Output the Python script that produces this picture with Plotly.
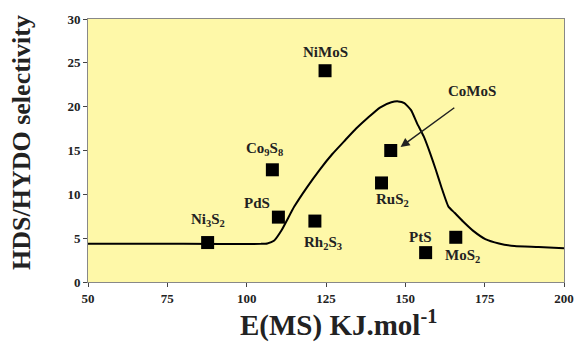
import plotly.graph_objects as go

names = ["Ni<sub>3</sub>S<sub>2</sub>", "Co<sub>9</sub>S<sub>8</sub>", "PdS", "NiMoS", "Rh<sub>2</sub>S<sub>3</sub>",
         "RuS<sub>2</sub>", "CoMoS", "PtS", "MoS<sub>2</sub>"]
e_ms = [87.7, 108.1, 110.0, 124.7, 121.5, 142.5, 145.4, 156.4, 165.9]
selectivity = [4.5, 12.8, 7.4, 24.1, 6.95, 11.3, 15.0, 3.35, 5.1]

# label anchor positions (data coords)
label_x = [87.7, 105.7, 103.4, 124.8, 124.2, 146.0, None, 154.9, 168.0]
label_y = [7.1, 15.2, 9.0, 26.2, 4.5, 9.4, None, 5.1, 2.95]

curve_x = [50, 80, 104.5, 106.5, 108.6, 111, 115, 119, 123, 127, 131.1, 134.5, 138.1, 142, 145.6, 147.8, 149.7, 151.8,
           153.7, 155.8, 157.8, 159.6, 161.3, 163.6, 165.5, 168.2, 171.5, 175.2, 179.5, 184.4, 192, 200]
curve_y = [4.35, 4.35, 4.35, 4.4, 4.7, 5.9, 8.6, 10.8, 12.8, 14.6, 16.2, 17.5, 18.7, 19.9, 20.5, 20.6, 20.4, 19.6,
           18.1, 16.6, 14.7, 12.8, 10.9, 8.6, 7.9, 6.9, 5.8, 4.9, 4.4, 4.1, 4.0, 3.85]

x_ticks = [50, 75, 100, 125, 150, 175, 200]
y_ticks = [0, 5, 10, 15, 20, 25, 30]

font_serif = "Liberation Serif"

fig = go.Figure()
fig.add_trace(go.Scatter(x=curve_x, y=curve_y, mode="lines",
                         line=dict(color="black", width=2, shape="spline", smoothing=0.5),
                         hoverinfo="skip", showlegend=False))
fig.add_trace(go.Scatter(x=e_ms, y=selectivity, mode="markers",
                         marker=dict(symbol="square", size=13, color="black"), showlegend=False))

for n, lx, ly in zip(names, label_x, label_y):
    if lx is None:
        continue
    fig.add_annotation(x=lx, y=ly, text="<b>" + n + "</b>", showarrow=False,
                       font=dict(family=font_serif, size=15, color="#222"))

# CoMoS label with arrow
fig.add_annotation(x=148.5, y=15.4, ax=165.9, ay=20.0, axref="x", ayref="y",
                   text="", showarrow=True, arrowhead=2, arrowsize=1.2, arrowwidth=1.5, arrowcolor="#222")
fig.add_annotation(x=171, y=21.8, text="<b>CoMoS</b>", showarrow=False,
                   font=dict(family=font_serif, size=15, color="#222"))

# axis titles as annotations
fig.add_annotation(xref="paper", yref="paper", x=0.527, y=-0.235, xanchor="center", yanchor="bottom",
                   text="<b>E(MS) KJ.mol<sup>-1</sup></b>", showarrow=False,
                   font=dict(family=font_serif, size=29, color="#222"))
fig.add_annotation(xref="paper", yref="paper", x=-0.14, y=0.53, xanchor="center", yanchor="middle",
                   text="<b>HDS/HYDO selectivity</b>", showarrow=False, textangle=-90,
                   font=dict(family=font_serif, size=26, color="#222"))

fig.update_layout(
    width=577, height=343,
    margin=dict(l=88, r=13, t=19, b=61, autoexpand=False),
    paper_bgcolor="white",
    plot_bgcolor="#FEF8A8",
    showlegend=False,
    xaxis=dict(range=[50, 200], tickvals=x_ticks, ticktext=[str(v) for v in x_ticks], automargin=False,
               ticks="outside", ticklen=4, tickcolor="#444",
               showgrid=False, zeroline=False, showline=True, linecolor="#888", linewidth=1, mirror=True,
               tickfont=dict(family=font_serif, size=13, color="#222", weight="bold")),
    yaxis=dict(range=[0, 30], tickvals=y_ticks, ticktext=[str(v) for v in y_ticks], automargin=False,
               ticks="outside", ticklen=4, tickcolor="#444",
               showgrid=False, zeroline=False, showline=True, linecolor="#888", linewidth=1, mirror=True,
               tickfont=dict(family=font_serif, size=13, color="#222", weight="bold")),
)

fig.write_html("out.html", config={"displayModeBar": False},
               post_script="document.body.style.margin='0';document.body.style.overflow='hidden';")
